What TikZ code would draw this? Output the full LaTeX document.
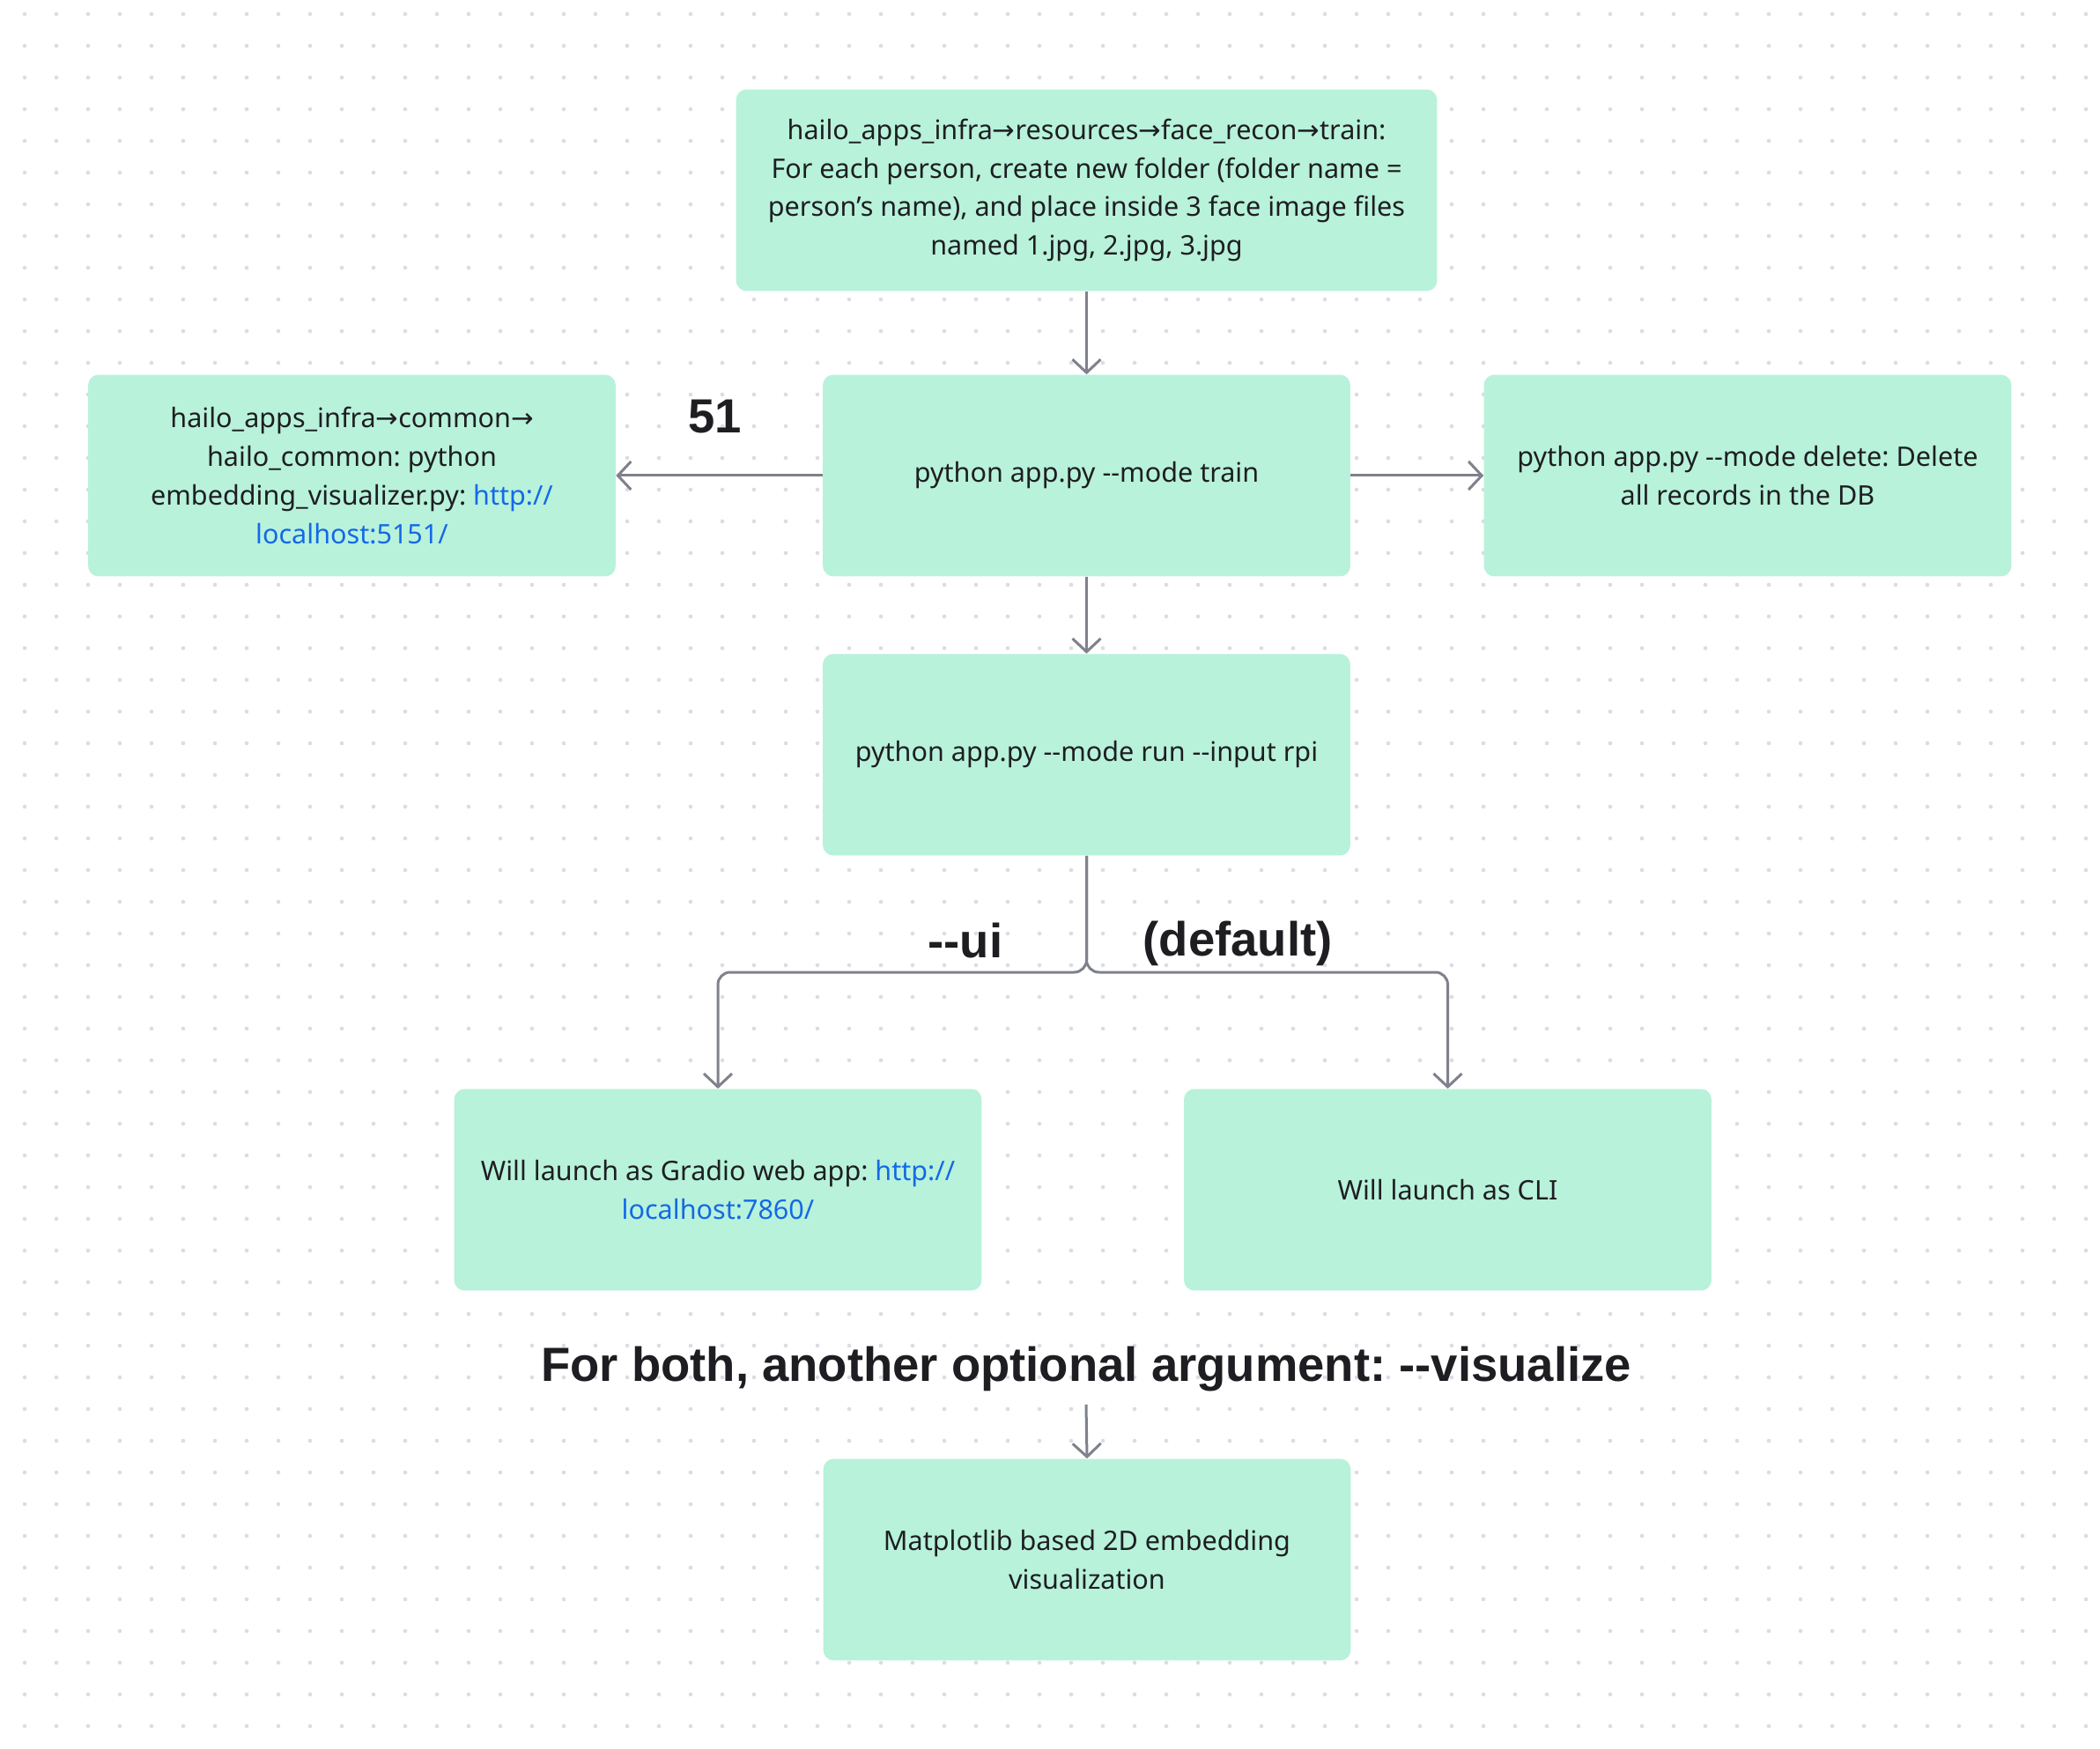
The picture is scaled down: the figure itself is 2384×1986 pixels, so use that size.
\documentclass[tikz,border=0pt]{standalone}
\usepackage{fontspec}
\setmainfont{Noto Sans}
\newfontfamily\arrowfont{DejaVu Sans}
\newfontfamily\headfamily{Liberation Sans}
\usetikzlibrary{arrows.meta}
\definecolor{mint}{HTML}{B8F2DB}
\definecolor{ink}{HTML}{1E1E22}
\definecolor{wire}{HTML}{7F828C}
\definecolor{linkblue}{HTML}{1469E6}
\definecolor{dotgray}{HTML}{DCDCE3}
\frenchspacing
\newcommand{\ra}{{\arrowfont →}}
\newcommand{\link}[1]{\textcolor{linkblue}{#1}}
\newcommand{\bodyfont}{\fontsize{17.4}{25}\selectfont}
\newcommand{\headfont}{\headfamily\fontsize{31}{37}\selectfont\bfseries}
\tikzstyle{arrow} = [draw, line width=0.06cm, color=wire, -{Straight Barb[length=0.3cm,width=0.64cm]}]
\tikzstyle{box} = [fill=mint, rounded corners=0.24cm, minimum height=4.58cm, minimum width=11.98cm, align=center, text=ink, font=\bodyfont]
\tikzstyle{tag} = [text=ink, font=\headfont]

\begin{document}
\begin{tikzpicture}[x=0.02cm,y=-0.02cm]

\fill[white] (0,0) rectangle (2384,1986);
\useasboundingbox (0,0) rectangle (2384,1986);

% dotted canvas
\foreach \i in {0,...,65}
\foreach \j in {0,...,54}
\fill[dotgray] (28+36*\i,16+36*\j) circle[radius=0.046cm];


%%% %%%
% TRAIN
%%% %%%


\node[box,minimum width=15.92cm] at (1233.5,216) (trainDir) {hailo\_apps\_infra\ra resources\ra face\_recon\ra train:\\For each person, create new folder (folder name =\\person’s name), and place inside 3 face image files\\named 1.jpg, 2.jpg, 3.jpg};

\node[box] at (1233.5,540) (modeTrain) {python app.py -{}-mode train};

\node[box] at (399.5,540) (embedViz) {hailo\_apps\_infra\ra common\ra\\hailo\_common: python\\embedding\_visualizer.py: \link{http://}\\\link{localhost:5151/}};

\node[box] at (1984,540) (modeDelete) {python app.py -{}-mode delete: Delete\\all records in the DB};

\node[tag] at (812,473) (tag51) {51};


%%% %%%
% RUN
%%% %%%


\node[box] at (1233.5,857) (modeRun) {python app.py -{}-mode run -{}-input rpi};

\coordinate (split) at (1233.5,1104);

\node[tag] at (1096,1068) (tagUi) {-{}-ui};
\node[tag] at (1405,1071) (tagDefault) {(default)};

\node[box] at (815,1351) (runGradio) {Will launch as Gradio web app: \link{http://}\\\link{localhost:7860/}};
\node[box] at (1643.5,1351) (runCli) {Will launch as CLI};


%%% %%%
% VISUALIZE
%%% %%%


\node[tag,inner sep=0.28cm] at (1233,1555) (both) {For both, another optional argument: -{}-visualize};

\node[box] at (1234,1771) (matplot) {Matplotlib based 2D embedding\\visualization};


%%%
% Arrows
%%%

\draw [arrow] (trainDir.south) to (modeTrain.north);
\draw [arrow] (modeTrain.west) to (embedViz.east);
\draw [arrow] (modeTrain.east) to (modeDelete.west);
\draw [arrow] (modeTrain.south) to (modeRun.north);

\draw [arrow,rounded corners=0.28cm] (modeRun.south) -- (split) -| (runGradio.north);
\draw [arrow,rounded corners=0.28cm] (modeRun.south) -- (split) -| (runCli.north);

\draw [arrow] (both.south) to (matplot.north);

\end{tikzpicture}
\end{document}
